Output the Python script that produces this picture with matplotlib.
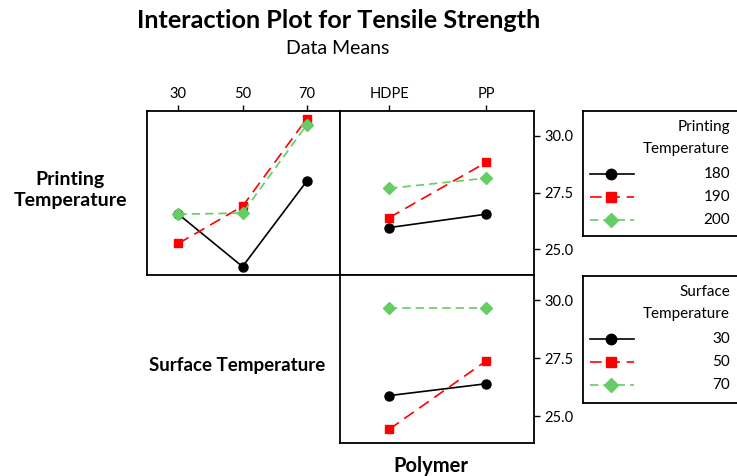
import matplotlib
matplotlib.use("Agg")
import matplotlib.pyplot as plt

plt.rcParams['font.family'] = ['Lato', 'DejaVu Sans']

# Faktorstufen
surf_levels = [30, 50, 70]
print_levels = [180, 190, 200]
polymers = ['HDPE', 'PP']

# Mittelwerte Zugfestigkeit: Printing Temperature (Linien) vs Surface Temperature (x)
pt180_vs_st = [26.55, 24.24, 28.0]
pt190_vs_st = [25.26, 26.9, 30.75]
pt200_vs_st = [26.55, 26.6, 30.48]

# Printing Temperature (Linien) vs Polymer (x)
pt180_vs_poly = [25.96, 26.55]
pt190_vs_poly = [26.4, 28.83]
pt200_vs_poly = [27.69, 28.14]

# Surface Temperature (Linien) vs Polymer (x)
st30_vs_poly = [25.9, 26.41]
st50_vs_poly = [24.45, 27.39]
st70_vs_poly = [29.68, 29.68]

yticks = [25.0, 27.5, 30.0]
ylim = (23.87, 31.1)

styles = [
    dict(color='black', marker='o', linestyle='-', markersize=6.5, lw=1.2),
    dict(color='red', marker='s', linestyle=(0, (7, 4)), markersize=6, lw=1.2),
    dict(color='#66CC66', marker='D', linestyle=(0, (5, 3)), markersize=6, lw=1.2),
]

fig = plt.figure(figsize=(7.37, 4.76), dpi=100)

L, M, R = 0.199, 0.4613, 0.725
T, C, B = 0.7668, 0.4223, 0.07

ax_tl = fig.add_axes([L, C, M - L, T - C])
ax_tr = fig.add_axes([M, C, R - M, T - C])
ax_br = fig.add_axes([M, B, R - M, C - B])

# Oben links
for vals, st in zip([pt180_vs_st, pt190_vs_st, pt200_vs_st], styles):
    ax_tl.plot(surf_levels, vals, **st)
ax_tl.set_xlim(20.1, 80.4)
ax_tl.set_ylim(*ylim)
ax_tl.set_xticks(surf_levels)
ax_tl.xaxis.tick_top()
ax_tl.set_yticks([])

# Oben rechts
xpos = list(range(len(polymers)))
for vals, st in zip([pt180_vs_poly, pt190_vs_poly, pt200_vs_poly], styles):
    ax_tr.plot(xpos, vals, **st)
ax_tr.set_xlim(-0.51, 1.5)
ax_tr.set_ylim(*ylim)
ax_tr.set_xticks(xpos)
ax_tr.set_xticklabels(polymers)
ax_tr.xaxis.tick_top()
ax_tr.set_yticks(yticks)
ax_tr.set_yticklabels([f"{v:.1f}" for v in yticks])
ax_tr.yaxis.tick_right()

# Unten rechts
for vals, st in zip([st30_vs_poly, st50_vs_poly, st70_vs_poly], styles):
    ax_br.plot(xpos, vals, **st)
ax_br.set_xlim(-0.51, 1.5)
ax_br.set_ylim(*ylim)
ax_br.set_xticks([])
ax_br.set_yticks(yticks)
ax_br.set_yticklabels([f"{v:.1f}" for v in yticks])
ax_br.yaxis.tick_right()

for ax in [ax_tl, ax_tr, ax_br]:
    ax.tick_params(direction='out', length=4, width=1, labelsize=10.5, pad=3)
    for s in ax.spines.values():
        s.set_linewidth(1.3)

# Legenden
def draw_legend(rect, title_lines, labels):
    lax = fig.add_axes(rect)
    lax.set_xlim(0, 1)
    lax.set_ylim(0, 1)
    lax.set_xticks([])
    lax.set_yticks([])
    for s in lax.spines.values():
        s.set_linewidth(1.3)
    w = rect[2] * 737
    h = rect[3] * 476
    xr = (730 - 582.7) / w
    y = 1 - 16 / h
    for t in title_lines:
        lax.text(xr, y, t, ha='right', va='center', fontsize=11)
        y -= 22.5 / h
    y -= 2 / h
    for lab, st in zip(labels, styles):
        lax.plot([7 / w, 51 / w], [y, y], color=st['color'], linestyle=st['linestyle'], lw=st['lw'])
        lax.plot([28 / w], [y], color=st['color'], marker=st['marker'],
                 markersize=st['markersize'] + 1, linestyle='none')
        lax.text(xr, y, str(lab), ha='right', va='center', fontsize=11)
        y -= 23 / h

lw_ = (737 - 582.7) / 737 + 0.01
draw_legend([582.7 / 737, 1 - 236 / 476, lw_, (236 - 110.7) / 476],
            ['Printing', 'Temperature'], print_levels)
draw_legend([582.7 / 737, 1 - 403.3 / 476, lw_, (403.3 - 275.7) / 476],
            ['Surface', 'Temperature'], surf_levels)

# Titel und Beschriftungen
fig.text(339 / 737, 1 - 21 / 476, 'Interaction Plot for Tensile Strength',
         ha='center', va='center', fontsize=18.2, fontweight='bold')
fig.text(338 / 737, 1 - 48 / 476, 'Data Means', ha='center', va='center', fontsize=14)
fig.text(70 / 737, 1 - 190 / 476, 'Printing\nTemperature', ha='center', va='center',
         fontsize=14, fontweight='bold', linespacing=1.3)
fig.text(237 / 737, 1 - 366 / 476, 'Surface Temperature', ha='center', va='center',
         fontsize=13.5, fontweight='bold')
fig.text(431 / 737, 1 - 466 / 476, 'Polymer', ha='center', va='center',
         fontsize=14.5, fontweight='bold')

fig.savefig('out.png', dpi=100)
